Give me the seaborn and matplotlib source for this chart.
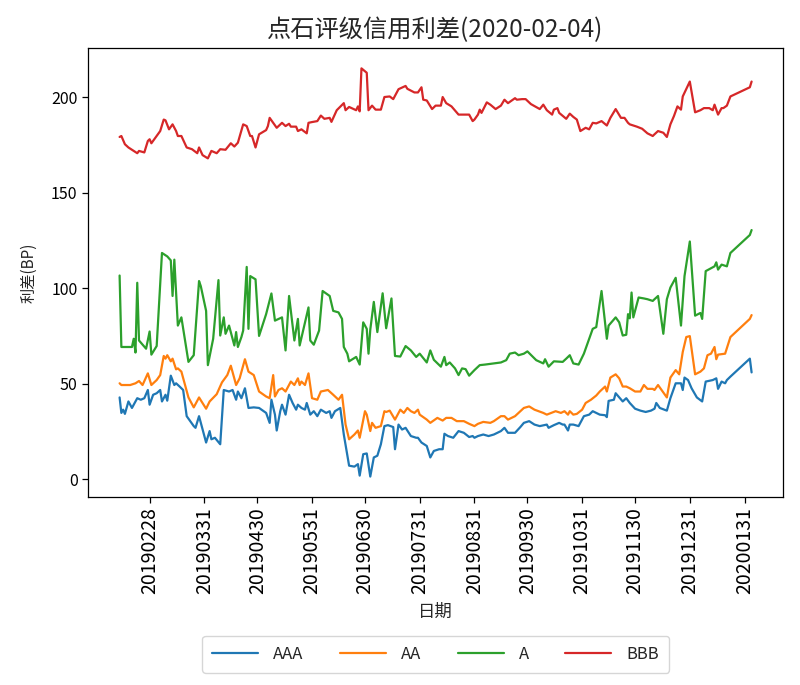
import pandas as pd
import matplotlib
matplotlib.use("Agg")
import matplotlib.pyplot as plt
import seaborn as sns

# ---- data ----
aaa_dates = ['20190211', '20190212', '20190213', '20190214', '20190216', '20190218', '20190221', '20190223',
             '20190225', '20190227', '20190228', '20190302', '20190304', '20190306', '20190307', '20190309',
             '20190310', '20190312', '20190314', '20190315', '20190317', '20190319', '20190321', '20190325',
             '20190326', '20190328', '20190401', '20190403', '20190404', '20190406', '20190409', '20190411',
             '20190414', '20190416', '20190418', '20190419', '20190421', '20190423', '20190425', '20190428',
             '20190501', '20190505', '20190507', '20190508', '20190510', '20190511', '20190513', '20190514',
             '20190516', '20190518', '20190520', '20190522', '20190523', '20190525', '20190527', '20190528',
             '20190530', '20190601', '20190603', '20190605', '20190608', '20190610', '20190611', '20190613',
             '20190616', '20190618', '20190621', '20190624', '20190626', '20190627', '20190629', '20190701',
             '20190703', '20190705', '20190707', '20190709', '20190711', '20190713', '20190716', '20190717',
             '20190719', '20190721', '20190723', '20190726', '20190729', '20190730', '20190801', '20190804',
             '20190806', '20190808', '20190811', '20190813', '20190814', '20190816', '20190819', '20190822',
             '20190825', '20190828', '20190830', '20190831', '20190902', '20190905', '20190908', '20190911',
             '20190913', '20190915', '20190917', '20190919', '20190923', '20190926', '20190928', '20191001',
             '20191004', '20191007', '20191011', '20191012', '20191015', '20191018', '20191020', '20191021',
             '20191023', '20191024', '20191026', '20191029', '20191101', '20191104', '20191106', '20191110',
             '20191113', '20191114', '20191115', '20191118', '20191119', '20191123', '20191125', '20191127',
             '20191130', '20191203', '20191206', '20191209', '20191211', '20191212', '20191214', '20191218',
             '20191220', '20191223', '20191226', '20191227', '20191228', '20191230', '20200101', '20200104',
             '20200107', '20200109', '20200113', '20200115', '20200116', '20200118', '20200120', '20200121',
             '20200123', '20200203', '20200204']
aaa_values = [42.8, 34.7, 36.4, 34.2, 40.7, 37.3, 42.4, 41.6,
              42.4, 46.7, 39.0, 44.2, 45.0, 46.7, 40.7, 44.2,
              41.1, 54.2, 49.3, 50.2, 48.5, 46.7, 33.0, 27.8,
              26.9, 33.0, 19.2, 25.2, 20.9, 21.7, 18.3, 46.7,
              45.9, 46.7, 41.6, 45.9, 42.4, 47.6, 37.3, 37.6,
              37.3, 34.7, 29.5, 41.6, 33.8, 25.5, 35.6, 39.0,
              33.8, 44.2, 39.9, 36.4, 39.0, 37.3, 36.4, 39.9,
              33.8, 35.6, 33.0, 36.4, 34.7, 35.6, 32.1, 35.6,
              37.3, 23.4, 7.1, 6.6, 7.9, 1.9, 13.1, 13.5,
              1.4, 11.4, 12.3, 18.3, 27.8, 28.3, 27.3, 15.7,
              28.6, 26.0, 26.9, 22.6, 21.7, 21.7, 19.2, 17.4,
              11.4, 14.8, 15.7, 15.7, 23.8, 22.6, 21.7, 25.2,
              24.3, 22.1, 22.6, 21.7, 22.6, 23.4, 22.6, 23.4,
              24.3, 25.2, 26.9, 24.3, 24.3, 27.3, 29.5, 30.4,
              28.6, 27.8, 28.6, 26.9, 28.3, 29.5, 28.6, 28.6,
              25.5, 28.6, 28.6, 27.8, 33.0, 33.8, 35.6, 33.8,
              33.5, 32.5, 41.0, 41.6, 45.0, 40.7, 42.4, 39.9,
              36.9, 35.9, 35.2, 35.9, 36.9, 39.9, 37.3, 35.9,
              42.4, 50.2, 50.2, 46.7, 53.2, 51.9, 47.6, 42.8,
              40.7, 51.1, 51.9, 52.8, 47.3, 51.1, 50.2, 51.9,
              53.7, 63.1, 55.9]

aa_dates = ['20190211', '20190212', '20190214', '20190217', '20190220', '20190222', '20190224', '20190227',
            '20190301', '20190304', '20190306', '20190308', '20190309', '20190310', '20190312', '20190313',
            '20190315', '20190316', '20190318', '20190322', '20190325', '20190328', '20190401', '20190403',
            '20190407', '20190410', '20190413', '20190415', '20190417', '20190418', '20190420', '20190423',
            '20190425', '20190428', '20190501', '20190505', '20190507', '20190509', '20190510', '20190512',
            '20190514', '20190516', '20190519', '20190521', '20190523', '20190524', '20190525', '20190527',
            '20190529', '20190531', '20190603', '20190605', '20190609', '20190612', '20190615', '20190617',
            '20190619', '20190621', '20190624', '20190626', '20190627', '20190630', '20190701', '20190703',
            '20190704', '20190706', '20190709', '20190711', '20190712', '20190714', '20190717', '20190720',
            '20190722', '20190724', '20190726', '20190728', '20190730', '20190731', '20190804', '20190806',
            '20190810', '20190813', '20190815', '20190818', '20190821', '20190825', '20190828', '20190831',
            '20190902', '20190905', '20190909', '20190911', '20190915', '20190917', '20190919', '20190923',
            '20190926', '20190928', '20191001', '20191004', '20191009', '20191011', '20191016', '20191019',
            '20191021', '20191023', '20191024', '20191026', '20191028', '20191031', '20191102', '20191105',
            '20191108', '20191110', '20191113', '20191114', '20191116', '20191119', '20191121', '20191123',
            '20191125', '20191127', '20191130', '20191203', '20191205', '20191207', '20191210', '20191211',
            '20191213', '20191215', '20191218', '20191220', '20191223', '20191225', '20191227', '20191229',
            '20191231', '20200103', '20200106', '20200108', '20200110', '20200112', '20200114', '20200115',
            '20200116', '20200120', '20200123', '20200203', '20200204']
aa_values = [50.2, 49.3, 49.3, 49.3, 50.2, 51.4, 49.3, 55.4,
             49.3, 51.9, 54.5, 64.5, 63.1, 64.9, 61.7, 63.1,
             57.5, 58.0, 56.3, 42.8, 37.6, 42.8, 36.9, 40.7,
             44.5, 50.7, 54.5, 59.4, 52.8, 49.3, 52.8, 62.8,
             56.3, 54.5, 45.9, 43.3, 42.4, 54.5, 43.3, 46.7,
             47.6, 45.9, 51.1, 49.3, 52.8, 49.3, 51.1, 49.3,
             55.4, 42.4, 41.6, 45.9, 46.7, 44.2, 41.6, 44.2,
             28.6, 20.9, 23.4, 25.5, 21.7, 35.6, 33.8, 25.2,
             29.5, 26.9, 27.8, 35.6, 35.2, 35.9, 31.2, 36.4,
             34.7, 37.3, 35.6, 34.7, 36.4, 33.8, 31.2, 29.5,
             32.1, 30.7, 32.1, 32.1, 30.4, 30.4, 29.0, 27.8,
             29.0, 30.0, 29.5, 30.4, 33.0, 33.0, 31.2, 33.0,
             35.6, 37.3, 38.1, 36.4, 34.7, 33.8, 35.6, 34.7,
             35.6, 33.8, 35.6, 33.8, 34.2, 36.4, 39.9, 41.6,
             43.8, 45.9, 48.5, 45.9, 53.2, 54.9, 52.8, 48.5,
             48.5, 47.6, 45.9, 45.9, 49.3, 47.3, 47.3, 46.7,
             49.3, 46.7, 42.8, 53.2, 57.1, 54.9, 66.6, 74.4,
             74.9, 54.9, 56.3, 58.0, 64.9, 65.7, 69.2, 62.8,
             65.2, 65.7, 74.4, 83.9, 85.9]

a_dates = ['20190211', '20190212', '20190218', '20190219', '20190220', '20190221', '20190222', '20190226',
           '20190228', '20190301', '20190304', '20190307', '20190310', '20190312', '20190313', '20190314',
           '20190316', '20190318', '20190322', '20190325', '20190328', '20190329', '20190401', '20190402',
           '20190405', '20190408', '20190409', '20190411', '20190412', '20190414', '20190417', '20190418',
           '20190419', '20190421', '20190422', '20190424', '20190425', '20190426', '20190429', '20190501',
           '20190505', '20190508', '20190510', '20190514', '20190516', '20190518', '20190521', '20190523',
           '20190524', '20190529', '20190530', '20190601', '20190604', '20190606', '20190610', '20190612',
           '20190615', '20190617', '20190618', '20190620', '20190621', '20190625', '20190627', '20190629',
           '20190701', '20190702', '20190703', '20190705', '20190707', '20190710', '20190712', '20190715',
           '20190717', '20190720', '20190723', '20190726', '20190729', '20190731', '20190804', '20190806',
           '20190808', '20190812', '20190814', '20190815', '20190817', '20190820', '20190822', '20190824',
           '20190826', '20190828', '20190831', '20190903', '20190906', '20190911', '20190915', '20190918',
           '20190920', '20190923', '20190925', '20190928', '20190930', '20191005', '20191009', '20191010',
           '20191012', '20191015', '20191020', '20191022', '20191024', '20191026', '20191029', '20191101',
           '20191104', '20191106', '20191108', '20191111', '20191114', '20191115', '20191119', '20191121',
           '20191123', '20191125', '20191126', '20191127', '20191128', '20191129', '20191202', '20191205',
           '20191207', '20191210', '20191211', '20191213', '20191216', '20191218', '20191220', '20191223',
           '20191226', '20191228', '20191231', '20200103', '20200106', '20200107', '20200109', '20200114',
           '20200115', '20200116', '20200118', '20200121', '20200123', '20200203', '20200204']
a_values = [106.6, 69.2, 69.2, 73.5, 66.3, 102.8, 72.6, 68.3,
            77.3, 65.2, 69.7, 118.4, 116.6, 114.5, 95.9, 114.9,
            80.4, 84.7, 61.4, 64.9, 103.7, 101.0, 88.1, 59.7,
            73.5, 104.2, 75.2, 84.7, 76.1, 80.4, 70.0, 77.0,
            69.2, 74.4, 77.8, 111.1, 78.7, 106.3, 104.6, 75.0,
            86.4, 97.2, 83.0, 84.7, 67.4, 95.9, 72.6, 83.9,
            70.0, 89.9, 72.6, 70.4, 77.8, 98.5, 95.9, 88.1,
            87.3, 83.9, 69.2, 65.7, 61.7, 64.0, 60.0, 82.1,
            78.7, 65.7, 78.3, 92.8, 77.0, 97.3, 79.0, 94.6,
            64.5, 64.2, 69.7, 67.4, 64.0, 65.7, 61.1, 67.4,
            62.5, 58.9, 64.0, 59.7, 61.1, 58.0, 54.5, 58.0,
            57.6, 54.2, 57.1, 59.7, 60.0, 60.6, 61.1, 62.3,
            65.7, 66.3, 64.9, 65.7, 66.9, 62.3, 60.6, 62.8,
            58.9, 61.7, 61.4, 63.1, 64.9, 60.6, 60.0, 65.7,
            73.5, 78.7, 79.6, 98.5, 73.5, 80.4, 84.7, 82.1,
            75.2, 75.6, 86.4, 84.2, 97.7, 84.7, 95.1, 94.6,
            94.2, 93.3, 94.2, 95.9, 76.1, 94.2, 100.3, 105.4,
            80.4, 106.3, 124.4, 85.6, 87.0, 83.9, 108.9, 111.4,
            113.5, 109.7, 112.3, 111.4, 118.4, 127.8, 130.4]

bbb_dates = ['20190211', '20190212', '20190214', '20190216', '20190219', '20190221', '20190222', '20190225',
             '20190227', '20190228', '20190301', '20190304', '20190306', '20190308', '20190309', '20190311',
             '20190313', '20190315', '20190316', '20190318', '20190321', '20190324', '20190327', '20190328',
             '20190330', '20190402', '20190404', '20190407', '20190409', '20190412', '20190415', '20190417',
             '20190419', '20190422', '20190424', '20190426', '20190427', '20190428', '20190429', '20190501',
             '20190505', '20190506', '20190507', '20190511', '20190514', '20190516', '20190518', '20190519',
             '20190522', '20190523', '20190525', '20190528', '20190529', '20190531', '20190603', '20190605',
             '20190607', '20190610', '20190611', '20190614', '20190618', '20190619', '20190621', '20190625',
             '20190626', '20190627', '20190628', '20190701', '20190702', '20190704', '20190706', '20190709',
             '20190711', '20190714', '20190716', '20190719', '20190723', '20190724', '20190728', '20190730',
             '20190801', '20190802', '20190804', '20190807', '20190809', '20190812', '20190813', '20190815',
             '20190818', '20190822', '20190825', '20190828', '20190830', '20190831', '20190902', '20190903',
             '20190904', '20190907', '20190909', '20190912', '20190915', '20190917', '20190919', '20190923',
             '20190924', '20190927', '20190929', '20191002', '20191007', '20191009', '20191011', '20191014',
             '20191015', '20191017', '20191018', '20191022', '20191024', '20191026', '20191028', '20191030',
             '20191102', '20191104', '20191106', '20191108', '20191111', '20191114', '20191116', '20191119',
             '20191122', '20191124', '20191126', '20191127', '20191201', '20191204', '20191207', '20191210',
             '20191211', '20191213', '20191216', '20191218', '20191220', '20191222', '20191224', '20191226',
             '20191227', '20191231', '20200103', '20200106', '20200108', '20200111', '20200113', '20200114',
             '20200116', '20200118', '20200119', '20200121', '20200123', '20200203', '20200204']
bbb_values = [179.1, 179.6, 175.3, 173.6, 171.8, 170.6, 171.8, 171.0,
              177.0, 177.9, 175.8, 179.6, 182.2, 188.2, 187.8, 183.1,
              185.7, 182.2, 179.6, 179.6, 173.6, 172.7, 170.6, 173.6,
              169.6, 167.9, 171.8, 170.6, 172.7, 172.4, 175.8, 174.1,
              176.1, 185.7, 184.8, 179.6, 179.6, 176.5, 173.6, 180.5,
              182.7, 184.8, 189.1, 183.9, 186.5, 184.8, 186.0, 184.5,
              184.5, 182.2, 183.1, 181.0, 186.5, 186.9, 187.4, 190.3,
              188.6, 189.1, 187.0, 193.1, 196.8, 193.1, 194.8, 193.1,
              195.1, 192.5, 215.0, 212.7, 193.1, 195.5, 193.4, 193.4,
              200.0, 200.3, 198.9, 204.1, 205.8, 204.3, 202.4, 202.4,
              205.1, 198.6, 198.2, 193.7, 195.5, 195.5, 200.0, 196.8,
              195.1, 190.8, 190.8, 190.8, 187.4, 188.2, 190.8, 193.4,
              191.7, 197.2, 196.0, 193.7, 195.5, 198.6, 196.8, 199.4,
              198.6, 198.9, 198.9, 196.3, 193.7, 196.0, 193.1, 190.8,
              193.4, 194.2, 191.7, 188.6, 191.3, 189.6, 188.2, 182.2,
              183.9, 183.1, 186.5, 186.2, 187.4, 185.1, 189.1, 193.7,
              189.1, 189.1, 186.5, 185.7, 184.5, 183.4, 181.0, 179.6,
              180.5, 182.2, 181.3, 179.1, 185.7, 190.0, 195.1, 193.4,
              200.3, 208.1, 192.0, 193.1, 194.2, 194.2, 193.1, 196.0,
              190.8, 194.2, 194.2, 195.5, 200.3, 205.1, 208.1]

ratings = ['AAA', 'AA', 'A', 'BBB']
tick_labels = ['20190228', '20190331', '20190430', '20190531', '20190630', '20190731',
               '20190831', '20190930', '20191031', '20191130', '20191231', '20200131']

# ---- build long-form table ----
frames = []
for name, d, v in zip(ratings,
                      [aaa_dates, aa_dates, a_dates, bbb_dates],
                      [aaa_values, aa_values, a_values, bbb_values]):
    frames.append(pd.DataFrame({'日期': pd.to_datetime(d, format='%Y%m%d'),
                                '利差(BP)': v, '评级': name}))
df = pd.concat(frames, ignore_index=True)

sns.set_style('ticks')
plt.rcParams['font.family'] = ['Noto Sans CJK SC', 'DejaVu Sans']
plt.rcParams['axes.unicode_minus'] = False

fig = plt.figure(figsize=(8, 6.85), dpi=100)
ax = fig.add_axes([0.11, 0.2745, 0.869, 0.6555])

sns.lineplot(data=df, x='日期', y='利差(BP)', hue='评级', hue_order=ratings,
             palette=['#1f77b4', '#ff7f0e', '#2ca02c', '#d62728'],
             estimator=None, sort=True, linewidth=1.6, ax=ax)

ticks = pd.to_datetime(tick_labels, format='%Y%m%d')
ax.set_xticks(ticks)
ax.set_xticklabels(tick_labels, rotation=90, fontsize=14)
ax.tick_params(axis='y', labelsize=11.5)
for s in ax.spines.values():
    s.set_color('black')
    s.set_linewidth(0.9)
ax.tick_params(colors='black', width=0.9, length=4)

ax.set_title('点石评级信用利差(2020-02-04)', fontsize=17.5, pad=8)
ax.set_xlabel('日期', fontsize=12.5, labelpad=6)
ax.set_ylabel('利差(BP)', fontsize=11, labelpad=10)

handles, labels = ax.get_legend_handles_labels()
ax.legend(handles, labels, loc='upper center', bbox_to_anchor=(0.5, -0.29),
          ncol=4, fontsize=12, handlelength=2.75, handletextpad=0.9,
          columnspacing=2.2, borderpad=0.6, frameon=True)

fig.savefig('out.png', dpi=100)
